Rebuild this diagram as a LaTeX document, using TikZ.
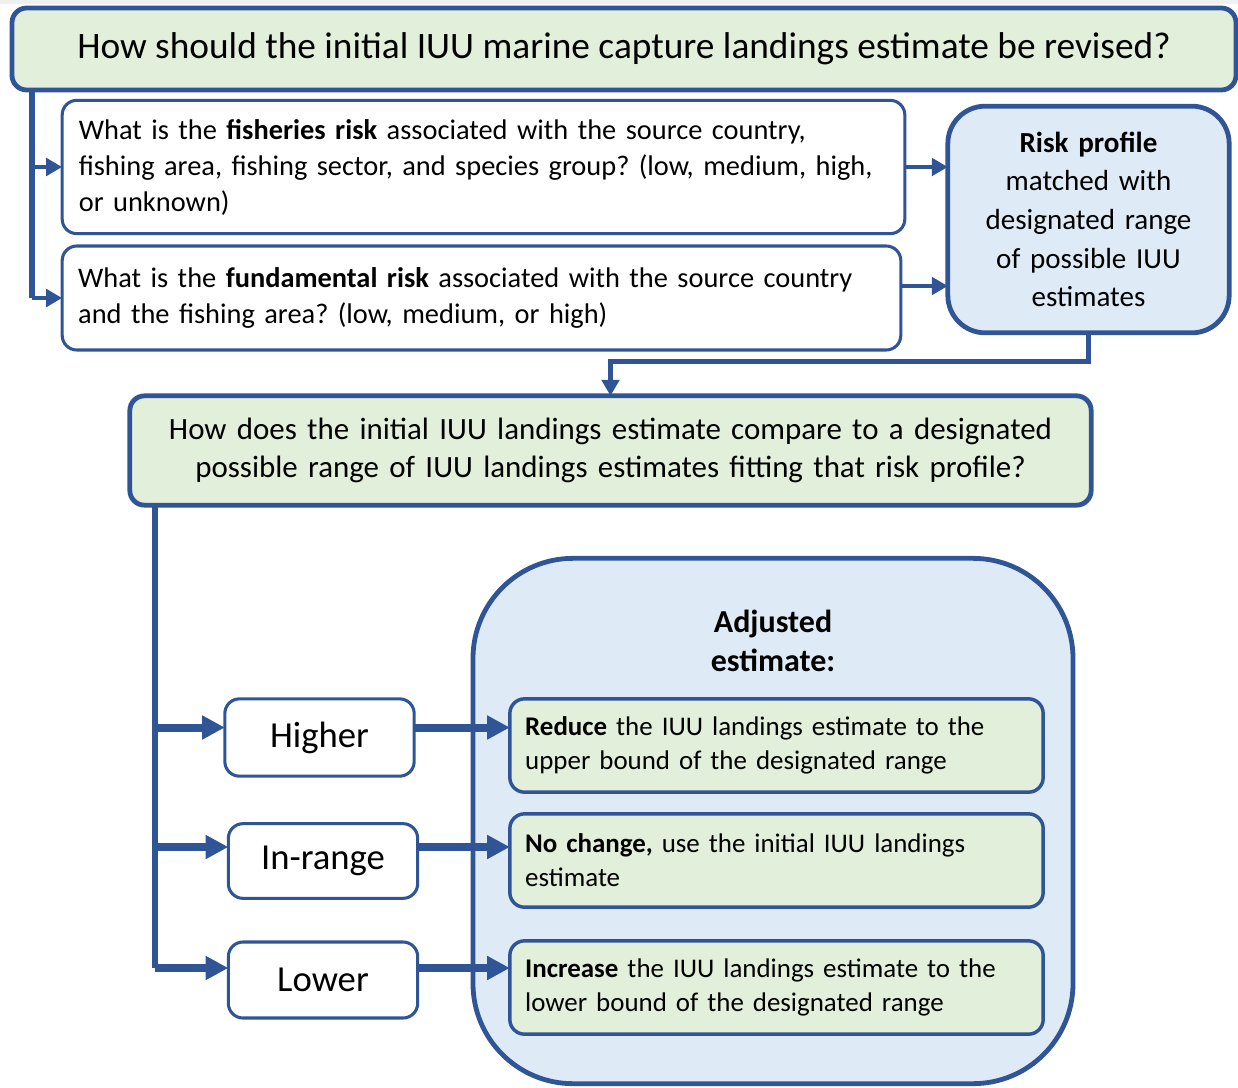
\documentclass[tikz,border=0pt]{standalone}
\usepackage{fontspec}
\setmainfont{Carlito}
\usetikzlibrary{arrows.meta}
\definecolor{bord}{HTML}{2F5597}
\definecolor{gfill}{HTML}{E2EFDA}
\definecolor{bfill}{HTML}{DEEBF7}
\begin{document}
\frenchspacing
\begin{tikzpicture}[x=0.75pt,y=-0.75pt,
  box/.style={draw=bord,rounded corners=11pt,inner sep=0pt,outer sep=0pt},
  thin box/.style={box,line width=2.3pt},
  thick box/.style={box,line width=3.6pt},
  conn/.style={draw=bord,line width=3.6pt},
  tipA/.style={-{Triangle[length=17pt,width=17pt]}},
  tipB/.style={-{Triangle[length=12pt,width=13pt]}}
]
\useasboundingbox (0,0) rectangle (1238,1088);
\fill[black!6] (0,0) rectangle (1238,4);
% title
\node[thick box,fill=gfill,minimum width=918pt,minimum height=61.5pt,
  font=\fontsize{28}{32}\selectfont] (title) at (624,49)
  {How should the initial IUU marine capture landings estimate be revised?};
% questions
\node[thin box,fill=white,minimum width=632pt,minimum height=100pt,
  text width=607pt,align=left,font=\fontsize{21.3}{27}\selectfont] (q1) at (483.5,167)
  {What is the \textbf{fisheries risk} associated with the source country,\\fishing area, fishing sector, and species group? (low, medium, high,\\or unknown)};
\node[thin box,fill=white,minimum width=629pt,minimum height=78pt,
  text width=605pt,align=left,font=\fontsize{21.3}{27}\selectfont] (q2) at (481.5,298)
  {What is the \textbf{fundamental risk} associated with the source country\\and the fishing area? (low, medium, or high)};
% risk profile
\node[thick box,rounded corners=28pt,fill=bfill,minimum width=211pt,minimum height=170pt,
  text width=200pt,align=center,font=\fontsize{21.8}{29}\selectfont] (risk) at (1088.5,219.5)
  {\textbf{Risk profile}\\matched with\\designated range\\of possible IUU\\estimates};
% second question
\node[thick box,fill=gfill,minimum width=721pt,minimum height=82pt,
  text width=710pt,align=center,font=\fontsize{23.2}{29}\selectfont] (box2) at (610.5,450.5)
  {How does the initial IUU landings estimate compare to a designated\\possible range of IUU landings estimates fitting that risk profile?};
% big adjusted container
\node[thick box,rounded corners=75pt,fill=bfill,minimum width=450pt,minimum height=394pt] (adj) at (773,821) {};
\node[font=\bfseries\fontsize{24}{29}\selectfont,align=center] (adjt) at (773,641) {Adjusted\\estimate:};
% options
\tikzset{opt/.style={thin box,fill=white,minimum width=142pt,font=\fontsize{27.5}{30}\selectfont}}
\node[opt,minimum height=58pt] (hi) at (319.5,737.5) {Higher};
\node[opt,minimum height=56pt] (mid) at (323,861) {In-range};
\node[opt,minimum height=57pt] (lo) at (323,980) {Lower};
% results
\tikzset{res/.style={thin box,line width=2.6pt,fill=gfill,minimum width=400pt,minimum height=70pt,
  text width=377pt,align=left,font=\fontsize{20.2}{25.5}\selectfont}}
\node[res] (r1) at (776.5,745.5) {\textbf{Reduce} the IUU landings estimate to the\\upper bound of the designated range};
\node[res] (r2) at (776.5,860.5) {\textbf{No change,} use the initial IUU landings\\estimate};
\node[res] (r3) at (776.5,987.5) {\textbf{Increase} the IUU landings estimate to the\\lower bound of the designated range};
% connectors top
\coordinate (ta) at (32,90);
\coordinate (tb) at (32,298);
\draw[conn,line width=4.5pt] (ta) -- (tb);
\draw[conn,line width=3.5pt,tipB] (q1.west -| ta) -- (q1.west);
\draw[conn,line width=3.5pt,tipB] (tb) -- (q2.west);
\draw[conn,line width=3.5pt,tipB] (q1.east) -- (q1.east -| risk.west);
\draw[conn,line width=3.5pt,tipB] ([yshift=9pt]q2.east) -- ([yshift=9pt]q2.east -| risk.west);
\draw[conn,line width=3.6pt,tipB] (risk.south) -- ++(0,29) -| (box2.north);
% connectors bottom
\coordinate (ba) at (155,505);
\coordinate (bb) at (155,968);
\draw[conn,line width=4.2pt] (ba) -- (bb);
\draw[conn,line width=6pt,tipA] ([yshift=7.5pt]hi.west -| ba) -- ([yshift=7.5pt]hi.west);
\draw[conn,line width=6pt,tipA] ([yshift=10.5pt]mid.west -| ba) -- ([yshift=10.5pt]mid.west);
\draw[conn,line width=6pt,tipA] (bb) -- (bb -| lo.west);
\draw[conn,line width=6pt,tipA] ([yshift=7.5pt]hi.east) -- ([yshift=7.5pt]hi.east -| r1.west);
\draw[conn,line width=6pt,tipA] ([yshift=10.5pt]mid.east) -- ([yshift=10.5pt]mid.east -| r2.west);
\draw[conn,line width=6pt,tipA] (bb -| lo.east) -- (bb -| r3.west);
\end{tikzpicture}
\end{document}
